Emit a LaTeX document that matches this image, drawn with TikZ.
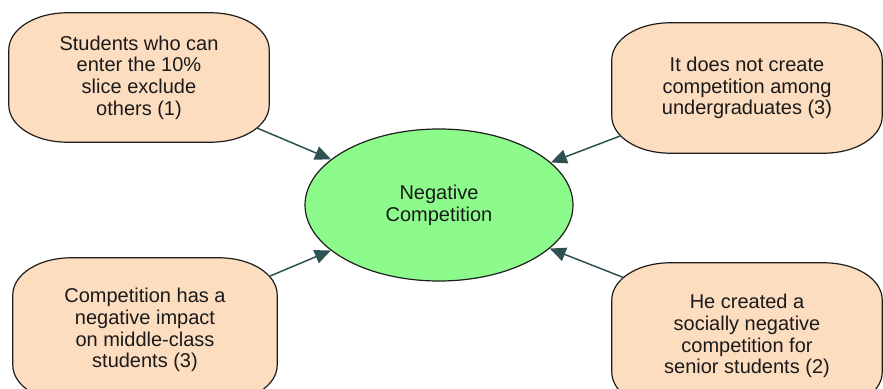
\documentclass[tikz,border=0pt]{standalone}
\usepackage{fontspec}
\setmainfont{Liberation Sans}
\usetikzlibrary{calc,arrows.meta,backgrounds,shapes.geometric}
\definecolor{peach}{HTML}{FDDDC0}
\definecolor{mint}{HTML}{8CFB8C}
\definecolor{edge}{HTML}{1E1E1E}
\definecolor{arrowc}{HTML}{2E5252}
\definecolor{txt}{HTML}{1A1A1A}
\tikzset{
  boxtext/.style={rectangle,inner sep=0pt,draw=none,align=center,text=txt,
    font=\fontsize{20}{21.7}\selectfont},
  boxshape/.style={fill=peach,draw=edge,line width=1.2pt},
  centre/.style={ellipse,fill=mint,draw=edge,line width=1.2pt,inner sep=0pt,
    minimum width=268pt,minimum height=152pt,align=center,text=txt,
    font=\fontsize{20}{21.7}\selectfont},
  link/.style={draw=arrowc,line width=1.5pt,-{Triangle[length=16pt,width=14pt]}}
}
\newcommand\ovbox[1]{%
  \path[boxshape] ($(#1.north west)+(58,0)$) -- ($(#1.north east)+(-58,0)$)
    arc[start angle=90,end angle=0,x radius=58pt,y radius=37pt]
    -- ($(#1.south east)+(0,37)$)
    arc[start angle=0,end angle=-90,x radius=58pt,y radius=37pt]
    -- ($(#1.south west)+(58,0)$)
    arc[start angle=270,end angle=180,x radius=58pt,y radius=37pt]
    -- ($(#1.north west)+(0,-37)$)
    arc[start angle=180,end angle=90,x radius=58pt,y radius=37pt] -- cycle;}
\begin{document}
\begin{tikzpicture}[x=1pt,y=1pt]
\useasboundingbox (0,0) rectangle (883,388);
\clip (0,0) rectangle (883,388);
\node[boxtext,minimum width=260pt,minimum height=129pt] (tl) at (139,310.5)
  {Students who can\\enter the 10\%\\slice exclude\\others (1)};
\node[boxtext,minimum width=270pt,minimum height=130pt] (tr) at (747,300)
  {It does not create\\competition among\\undergraduates (3)};
\node[boxtext,minimum width=264pt,minimum height=144pt] (bl) at (145,58)
  {Competition has a\\negative impact\\on middle-class\\students (3)};
\node[boxtext,minimum width=270pt,minimum height=146pt] (br) at (747,52)
  {He created a\\socially negative\\competition for\\senior students (2)};
\begin{scope}[on background layer]
  \ovbox{tl}\ovbox{tr}\ovbox{bl}\ovbox{br}
\end{scope}
\node[centre] (nc) at (439,183) {Negative\\Competition};
\coordinate (tl1) at ($(tl.south east)+(-58,37)+(-38:58pt and 37pt)$);
\coordinate (tr1) at ($(tr.south west)+(58,37)+(-148:58pt and 37pt)$);
\coordinate (bl1) at ($(bl.north east)+(-58,-37)+(30:58pt and 37pt)$);
\coordinate (br1) at ($(br.north west)+(58,-37)+(143:58pt and 37pt)$);
\draw[link] (tl1) -- (nc);
\draw[link] (tr1) -- (nc);
\draw[link] (bl1) -- (nc);
\draw[link] (br1) -- (nc);
\end{tikzpicture}
\end{document}
